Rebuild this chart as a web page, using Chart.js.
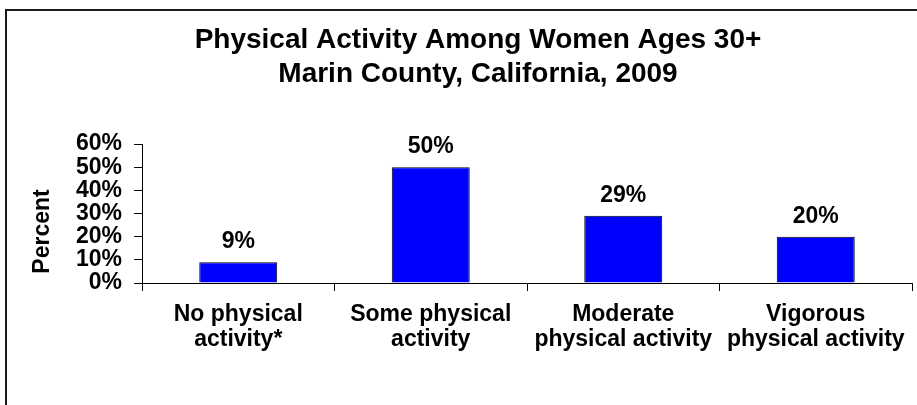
<!DOCTYPE html>
<html>
<head>
<meta charset="utf-8">
<script src="https://cdn.jsdelivr.net/npm/chart.js@4.4.0/dist/chart.umd.min.js"></script>
<style>
    html, body { margin: 0; padding: 0; background: #fff; overflow: hidden; }
    #wrap { position: relative; width: 917px; height: 405px; }
    #frame {
        position: absolute; left: 5px; top: 9px; width: 1000px; height: 500px;
        border: 2px solid #1a1a1a; pointer-events: none;
    }
</style>
</head>
<body>
<div id="wrap">
    <canvas id="chart" width="917" height="405"></canvas>
    <div id="frame"></div>
</div>
<script>
// Chart data
const categories = [
    ['No physical', 'activity*'],
    ['Some physical', 'activity'],
    ['Moderate', 'physical activity'],
    ['Vigorous', 'physical activity']
];
const percentValues = [9, 50, 29, 20];
const valueLabels = ['9%', '50%', '29%', '20%'];
const titleLines = ['Physical Activity Among Women Ages 30+', 'Marin County, California, 2009'];
const yAxisTitle = 'Percent';

const FONT = '"Liberation Sans", Arial, sans-serif';

// Title is centred on the original (wider) frame, so it sits right of the canvas centre
const titleText = {
    id: 'titleText',
    afterDraw(chart) {
        const ctx = chart.ctx;
        ctx.save();
        ctx.font = 'bold 28px ' + FONT;
        ctx.fillStyle = '#000';
        ctx.textAlign = 'center';
        ctx.textBaseline = 'alphabetic';
        ctx.fillText(titleLines[0], 478, 48);
        ctx.fillText(titleLines[1], 478, 82);
        ctx.restore();
    }
};

// Value labels above each bar, plus the y axis title (sits a bit low in the original)
const extraText = {
    id: 'extraText',
    afterDatasetsDraw(chart) {
        const ctx = chart.ctx;
        const meta = chart.getDatasetMeta(0);
        ctx.save();
        ctx.font = 'bold 23px ' + FONT;
        ctx.fillStyle = '#000';
        ctx.textAlign = 'center';
        ctx.textBaseline = 'alphabetic';
        meta.data.forEach((bar, i) => {
            ctx.fillText(valueLabels[i], bar.x, bar.y - 14);
        });

        const area = chart.chartArea;
        ctx.translate(43, (area.top + area.bottom) / 2 + 18);
        ctx.rotate(-Math.PI / 2);
        ctx.textBaseline = 'middle';
        ctx.fillText(yAxisTitle, 0, 0);
        ctx.restore();
    }
};

new Chart(document.getElementById('chart'), {
    type: 'bar',
    data: {
        labels: categories,
        datasets: [{
            data: percentValues,
            backgroundColor: '#0000ff',
            borderColor: '#000',
            borderWidth: 1,
            barPercentage: 0.405,
            categoryPercentage: 1
        }]
    },
    options: {
        responsive: false,
        animation: false,
        layout: { padding: { left: 0, right: 5, top: 144, bottom: 0 } },
        plugins: {
            legend: { display: false },
            tooltip: { enabled: false },
            title: { display: false }
        },
        scales: {
            x: {
                offset: true,
                grid: {
                    display: true,
                    offset: true,
                    drawOnChartArea: false,
                    drawTicks: true,
                    tickLength: 8,
                    color: '#000'
                },
                border: { display: true, color: '#000', width: 1 },
                ticks: {
                    color: '#000',
                    padding: 11,
                    maxRotation: 0,
                    autoSkip: false,
                    font: { family: FONT, size: 23, weight: 'bold', lineHeight: 1.087 }
                },
                afterFit(scale) { scale.height = 122; }
            },
            y: {
                min: 0,
                max: 60,
                grid: {
                    display: true,
                    drawOnChartArea: false,
                    drawTicks: true,
                    tickLength: 8,
                    color: '#000'
                },
                border: { display: true, color: '#000', width: 1 },
                ticks: {
                    stepSize: 10,
                    autoSkip: false,
                    color: '#000',
                    padding: 12,
                    font: { family: FONT, size: 23, weight: 'bold', lineHeight: 1.0 },
                    callback: (v) => v + '%'
                },
                afterFit(scale) { scale.width = 142; }
            }
        }
    },
    plugins: [extraText, titleText]
});
</script>
</body>
</html>
